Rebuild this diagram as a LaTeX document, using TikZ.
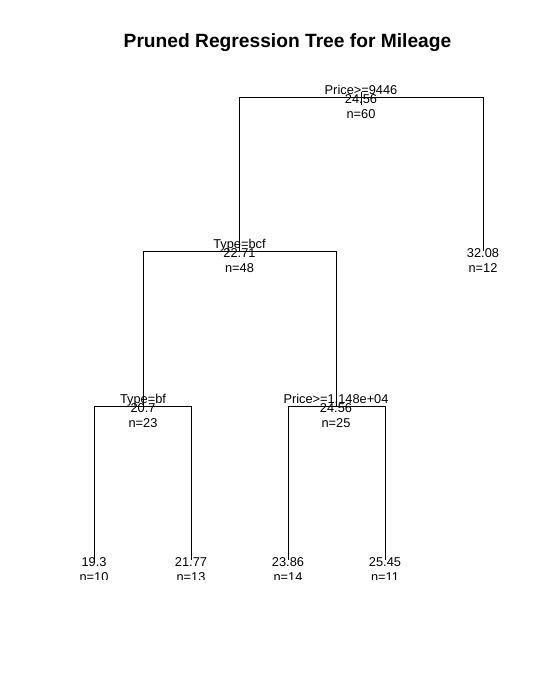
\documentclass[tikz,border=0pt]{standalone}
\usepackage{fontspec}
\setmainfont{Liberation Sans}
\begin{document}
\begin{tikzpicture}[x=1pt,y=-1pt,line width=0.8pt,
  lab/.style={anchor=base,font=\fontsize{12.8}{15}\selectfont},
  ttl/.style={anchor=base,font=\fontsize{19.2}{23}\selectfont\bfseries}]
\tikzstyle{every node}+=[inner sep=0pt]
\useasboundingbox (0,0) rectangle (538,677);
\node [ttl] (title) at (287.5,47.3) {Pruned Regression Tree for Mileage};
\coordinate (price1) at (361,97);
\coordinate (bcf) at (239.5,251);
\coordinate (leaf32) at (483,251);
\coordinate (bf) at (143,406);
\coordinate (price2) at (336,406);
\coordinate (leaf19) at (94,560);
\coordinate (leaf21) at (191,560);
\coordinate (leaf23) at (288,560);
\coordinate (leaf25) at (385,560);
\begin{scope}
\clip (0,60) rectangle (538,579);
\draw [black] (price1) -| (bcf);
\draw [black] (price1) -| (leaf32);
\draw [black] (bcf) -| (bf);
\draw [black] (bcf) -| (price2);
\draw [black] (bf) -| (leaf19);
\draw [black] (bf) -| (leaf21);
\draw [black] (price2) -| (leaf23);
\draw [black] (price2) -| (leaf25);
\draw [black] ([yshift=5pt]price1) -- ([yshift=-8pt]price1);
\node [lab] (price1-split) at (361,94.3) {Price>=9446};
\node [lab] (price1-mean) at (361,103.5) {24.56};
\node [lab] (price1-n) at (361,118.5) {n=60};
\node [lab] (bcf-split) at (239.5,248.3) {Type=bcf};
\node [lab] (bcf-mean) at (239.5,257.5) {22.71};
\node [lab] (bcf-n) at (239.5,272.5) {n=48};
\node [lab] (leaf32-mean) at (483,257.5) {32.08};
\node [lab] (leaf32-n) at (483,272.5) {n=12};
\node [lab] (bf-split) at (143,403.3) {Type=bf};
\node [lab] (bf-mean) at (143,412.5) {20.7};
\node [lab] (bf-n) at (143,427.5) {n=23};
\node [lab] (price2-split) at (336,403.3) {Price>=1.148e+04};
\node [lab] (price2-mean) at (336,412.5) {24.56};
\node [lab] (price2-n) at (336,427.5) {n=25};
\node [lab] (leaf19-mean) at (94,566.5) {19.3};
\node [lab] (leaf19-n) at (94,581.5) {n=10};
\node [lab] (leaf21-mean) at (191,566.5) {21.77};
\node [lab] (leaf21-n) at (191,581.5) {n=13};
\node [lab] (leaf23-mean) at (288,566.5) {23.86};
\node [lab] (leaf23-n) at (288,581.5) {n=14};
\node [lab] (leaf25-mean) at (385,566.5) {25.45};
\node [lab] (leaf25-n) at (385,581.5) {n=11};
\end{scope}
\end{tikzpicture}
\end{document}
